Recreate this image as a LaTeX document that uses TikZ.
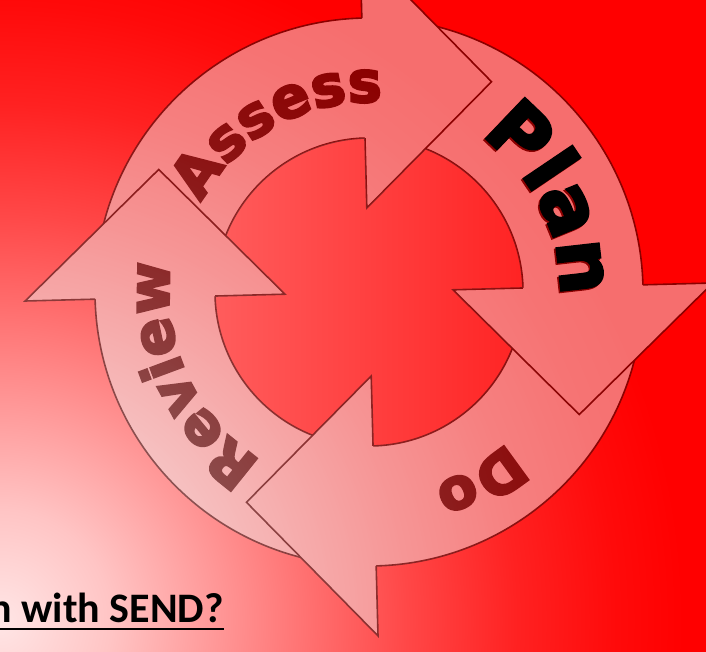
\documentclass[tikz,border=0pt]{standalone}
\usepackage{fontspec}
\setmainfont{DejaVu Sans}
\newfontfamily\ringfont{DejaVu Sans}[BoldFeatures={FakeBold=4}]
\newfontfamily\questionfont{Carlito}
\usetikzlibrary{positioning}
\usetikzlibrary{decorations.text}
\colorlet{slide red}{red}
\colorlet{glow a}{red!10!white}
\colorlet{glow b}{red!23!white}
\colorlet{glow c}{red!41!white}
\colorlet{glow d}{red!58!white}
\colorlet{glow e}{red!72!white}
\colorlet{glow f}{red!87!white}
\colorlet{glow g}{red!96!white}
\colorlet{hole left}{red!50!white}
\colorlet{hole right}{red}
\definecolor{arrow fill}{RGB}{236,246,246}
\colorlet{arrow edge}{black}
\colorlet{plan ink}{black}
% The shading square runs to 50bp, but only 25bp of it reaches the path's edge
\pgfdeclareradialshading{glow}{\pgfpoint{0bp}{0bp}}{%
    color(0bp)=(glow a); color(3.6bp)=(glow b); color(7.1bp)=(glow c);
    color(10.4bp)=(glow d); color(13.2bp)=(glow e); color(16.8bp)=(glow f);
    color(20bp)=(glow g); color(22.2bp)=(slide red); color(50bp)=(slide red)}
\tikzset{
    % The whole cycle is drawn faint, as one group, over the red
    ring body/.style={fill=arrow fill, draw=arrow edge, line width=1.6pt},
    head fill/.style={fill=arrow fill},
    head edge/.style={draw=arrow edge, line width=1.6pt, line join=miter},
%
    % Words bent round the ring
    ring text/.style={decorate,
        decoration={text along path, text align=center, text={#1}}},
    small word/.style={ring text={|\ringfont\bfseries\fontsize{57}{60}\selectfont|#1}},
    big word/.style={ring text={|\ringfont\bfseries\fontsize{76}{80}\selectfont|#1}},
}

\begin{document}
\begin{tikzpicture}[x=1pt, y=1pt]

\useasboundingbox (0,0) rectangle (706,651);
\begin{scope}
    \clip (0,0) rectangle (706,651);
    \fill [slide red] (-10,-10) rectangle (716,661);
    \shade [shading=glow] (0,30) circle [radius=770];
\end{scope}

\coordinate (hub) at (369,359);

% Lighter red showing through the middle of the ring, not under the heads
\begin{scope}[shift={(hub)}, rotate=1.5]
    \clip (0,0) circle [radius=154];
    \shade [left color=hole left, right color=hole right, even odd rule]
        (-154,-154) rectangle (154,154)
        (0,84) -- (128,207) -- (0,344) -- cycle
        (84,0) -- (207,-128) -- (344,0) -- cycle
        (0,-84) -- (-128,-207) -- (0,-344) -- cycle
        (-84,0) -- (-207,128) -- (-344,0) -- cycle;
\end{scope}

\begin{scope}[shift={(hub)}, rotate=1.5, transparency group, opacity=0.45]
    % Bodies first
    \path [ring body] (172:274) arc [start angle=172, end angle=85, radius=274]
        -- (85:154) arc [start angle=85, end angle=172, radius=154] -- cycle;
    \path [ring body, rotate=-90] (172:274) arc [start angle=172, end angle=85, radius=274]
        -- (85:154) arc [start angle=85, end angle=172, radius=154] -- cycle;
    \path [ring body, rotate=-180] (172:274) arc [start angle=172, end angle=85, radius=274]
        -- (85:154) arc [start angle=85, end angle=172, radius=154] -- cycle;
    \path [ring body, rotate=-270] (172:274) arc [start angle=172, end angle=85, radius=274]
        -- (85:154) arc [start angle=85, end angle=172, radius=154] -- cycle;

    % Heads go over the tail of the next arrow
    \path [head fill] (0,84) -- (128,207) -- (0,344) -- cycle;
    \path [head edge] (0,154) -- (0,84) -- (128,207) -- (0,344) -- (0,274);
    \path [head fill, rotate=-90] (0,84) -- (128,207) -- (0,344) -- cycle;
    \path [head edge, rotate=-90] (0,154) -- (0,84) -- (128,207) -- (0,344) -- (0,274);
    \path [head fill, rotate=-180] (0,84) -- (128,207) -- (0,344) -- cycle;
    \path [head edge, rotate=-180] (0,154) -- (0,84) -- (128,207) -- (0,344) -- (0,274);
    \path [head fill, rotate=-270] (0,84) -- (128,207) -- (0,344) -- cycle;
    \path [head edge, rotate=-270] (0,154) -- (0,84) -- (128,207) -- (0,344) -- (0,274);

    \path [small word=Assess] (187.5:190) arc [start angle=187.5, end angle=47.5, radius=190];
    \path [big word=Plan] (95:190) arc [start angle=95, end angle=-45, radius=190];
    \path [small word=Do] (9:204) arc [start angle=9, end angle=-131, radius=204];
    \path [small word=Review] (273:200) arc [start angle=273, end angle=133, radius=200];
\end{scope}

% Plan again, solid black, just off the faint one
\begin{scope}[shift={(hub)}, shift={(1.5,1.5)}, rotate=1.5]
    \path [big word=Plan, text=plan ink] (95:190) arc [start angle=95, end angle=-45, radius=190];
\end{scope}

\node (send) [anchor=base east, inner sep=0,
    font=\questionfont\bfseries\fontsize{42}{48}\selectfont] at (224,29) {n with SEND?};
\draw [line width=2.5pt] ([yshift=-7pt]send.base west) -- ([yshift=-7pt]send.base east);

\end{tikzpicture}
\end{document}
